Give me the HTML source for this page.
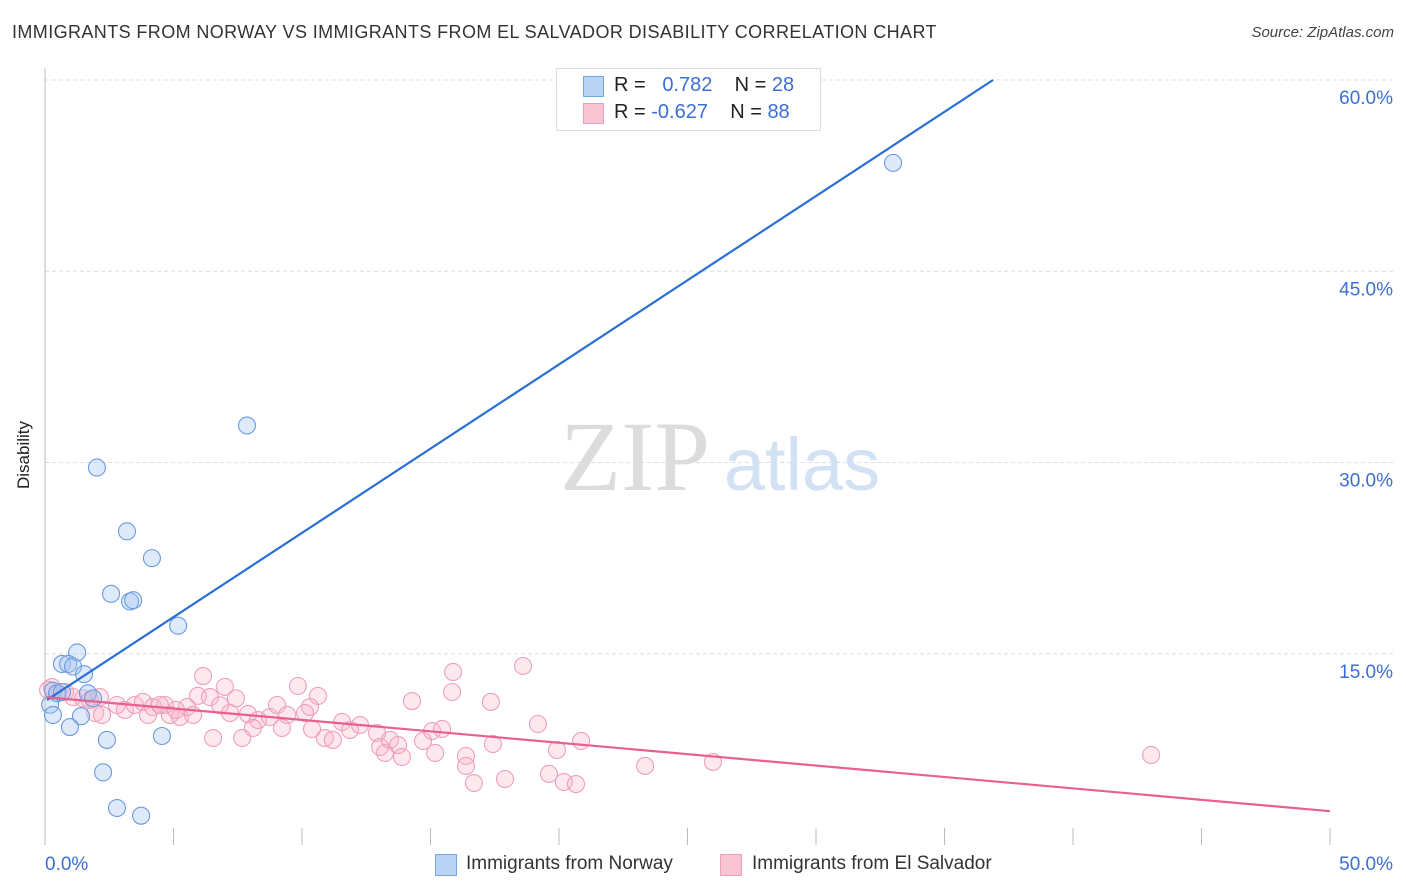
<!DOCTYPE html>
<html><head><meta charset="utf-8"><style>
body{margin:0;background:#fff;font-family:"Liberation Sans",sans-serif;}
#wrap{position:relative;width:1406px;height:892px;overflow:hidden;}
.t{position:absolute;white-space:nowrap;}
</style></head><body>
<div id="wrap">
<div class="t" style="left:12px;top:22px;font-size:18px;color:#333;letter-spacing:0.4px">IMMIGRANTS FROM NORWAY VS IMMIGRANTS FROM EL SALVADOR DISABILITY CORRELATION CHART</div>
<div class="t" style="right:12px;top:24px;font-size:15px;color:#444;font-style:italic">Source: ZipAtlas.com</div>
<div class="t" style="left:-10px;top:445px;font-size:17px;color:#222;transform:rotate(-90deg)">Disability</div>
<svg id="plot" width="1406" height="892" style="position:absolute;left:0;top:0"></svg>
<div style="position:absolute;left:556px;top:68px;width:263px;height:61px;border:1px solid #ddd;background:#fff"></div>
<div style="position:absolute;left:583px;top:76px;width:19px;height:19px;background:#b9d3f5;border:1px solid #7aa5e3"></div>
<div style="position:absolute;left:583px;top:103px;width:19px;height:19px;background:#f9c5d5;border:1px solid #eda0b8"></div>
<div class="t" style="left:614px;top:74px;font-size:20px;color:#222">R = &nbsp;&nbsp;<span style="color:#3b6fd4">0.782</span>&nbsp;&nbsp;&nbsp; N = <span style="color:#3b6fd4">28</span></div>
<div class="t" style="left:614px;top:101px;font-size:20px;color:#222">R = <span style="color:#3b6fd4">-0.627</span>&nbsp;&nbsp;&nbsp; N = <span style="color:#3b6fd4">88</span></div>
<div style="position:absolute;left:435px;top:854px;width:20px;height:20px;background:#b9d3f5;border:1px solid #7aa5e3"></div>
<div class="t" style="left:466px;top:853px;font-size:19px;color:#333">Immigrants from Norway</div>
<div style="position:absolute;left:720px;top:854px;width:20px;height:20px;background:#f9c5d5;border:1px solid #eda0b8"></div>
<div class="t" style="left:752px;top:853px;font-size:19px;color:#333">Immigrants from El Salvador</div>
</div>
<script>
const xTicksLabels=["0.0%","50.0%"];
const yTicks=[15,30,45,60];
const blueX=[33.0,7.86,2.02,3.19,4.16,2.57,3.31,3.43,5.18,1.25,0.66,0.9,1.09,1.52,1.67,1.87,0.31,0.47,0.66,0.2,0.31,1.4,0.97,2.41,4.55,2.26,2.8,3.74];
const blueY=[53.5,32.9,29.6,24.6,22.5,19.7,19.1,19.2,17.2,15.1,14.2,14.2,14.0,13.4,11.9,11.5,12.1,11.9,12.0,11.0,10.2,10.1,9.25,8.24,8.55,5.7,2.9,2.3];
const pinkX=[6.15,7.0,5.95,6.42,7.43,6.81,7.2,7.9,8.29,8.09,8.75,9.03,9.42,9.22,9.84,10.62,10.31,10.12,10.39,6.54,7.67,10.89,11.2,11.56,11.87,12.26,12.92,13.04,13.23,13.42,13.74,13.89,14.28,14.71,15.18,15.06,15.45,15.88,15.84,18.6,17.35,19.18,17.43,16.38,16.38,16.69,17.9,19.61,19.92,20.19,20.66,20.86,23.35,25.99,43.04,1.95,2.22,2.8,3.11,3.5,3.81,4.2,4.01,4.67,4.86,5.25,5.53,5.76,0.51,1.09,1.48,0.27,0.12,0.78,1.75,2.14,4.47,5.1];
const pinkY=[13.25,12.4,11.7,11.6,11.5,10.96,10.35,10.27,9.8,9.18,10.04,10.98,10.2,9.18,12.47,11.69,10.82,10.35,9.1,8.39,8.39,8.39,8.24,9.65,9.02,9.41,8.78,7.69,7.22,8.24,7.84,6.9,11.29,8.16,7.22,8.94,9.1,13.57,12.0,14.04,11.22,9.49,7.92,6.98,6.2,4.86,5.18,5.57,7.45,4.94,4.78,8.16,6.2,6.51,7.06,10.35,10.2,10.98,10.59,10.98,11.22,10.82,10.2,10.98,10.2,10.04,10.82,10.2,11.92,11.6,11.5,12.39,12.16,12.0,11.37,11.6,10.98,10.59];
const blueFit=[11.27,1.321];
const pinkFit=[11.6,-0.179];
const X=v=>45+v/50*1285, Y=v=>845-v*12.75;
const svg=document.getElementById('plot'),NS='http://www.w3.org/2000/svg';
function mk(t,a){const e=document.createElementNS(NS,t);for(const k in a)e.setAttribute(k,a[k]);svg.appendChild(e);return e;}
yTicks.forEach(v=>{
 const g=mk('line',{x1:45,x2:1395,y1:Y(v),y2:Y(v),stroke:'#ddd','stroke-dasharray':'4,3'});
 
 
 const t=mk('text',{x:1393,y:Y(v)+24,'text-anchor':'end','font-size':19,fill:'#3b6fd4','font-family':'Liberation Sans'});
 t.textContent=v.toFixed(1)+'%';
 
 
});
const ax=mk('line',{x1:45,x2:45,y1:68,y2:845,stroke:'#bbb'});


for(let v=5;v<=50;v+=5){const tk=mk('line',{x1:X(v),x2:X(v),y1:828,y2:845,stroke:'#bbb'});
 
 }
[[0,'start',45],[50,'end',1393]].forEach((d,i)=>{const t=mk('text',{x:d[2],y:870,'text-anchor':d[1],'font-size':19,fill:'#3b6fd4','font-family':'Liberation Sans'});t.textContent=xTicksLabels[i];
 
 });
const w1=mk('text',{x:635,y:490,'text-anchor':'middle','font-size':100,fill:'#dcdcdc','font-family':'Liberation Serif'});w1.textContent='ZIP';


const w2=mk('text',{x:802,y:490,'text-anchor':'middle','font-size':74,fill:'#d3e1f5','font-family':'Liberation Sans'});w2.textContent='atlas';


pinkX.forEach((v,i)=>{const c=mk('circle',{cx:X(v),cy:Y(pinkY[i]),r:8.5,fill:'rgba(248,180,200,0.3)',stroke:'#eea0b9','stroke-width':1.1});
 
 });
blueX.forEach((v,i)=>{const c=mk('circle',{cx:X(v),cy:Y(blueY[i]),r:8.5,fill:'rgba(160,196,240,0.35)',stroke:'#6a9be0','stroke-width':1.1});
 
 });
const bxEnd=(60-blueFit[0])/blueFit[1];
const bl=mk('line',{x1:X(0.08),y1:Y(blueFit[0]+blueFit[1]*0.08),x2:X(bxEnd),y2:Y(60),stroke:'#2a6fd6','stroke-width':2.2});


const pl=mk('line',{x1:X(0.08),y1:Y(pinkFit[0]+pinkFit[1]*0.08),x2:X(50),y2:Y(pinkFit[0]+pinkFit[1]*50),stroke:'#e8608f','stroke-width':2.2});


</script>
</body></html>
